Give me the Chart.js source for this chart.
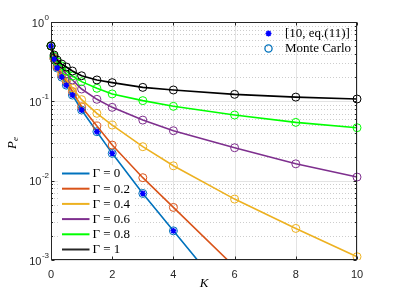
<!DOCTYPE html>
<html><head><meta charset="utf-8">
<script src="https://cdn.jsdelivr.net/npm/chart.js@4/dist/chart.umd.min.js"></script>
<style>html,body{margin:0;padding:0;background:#fff;}#wrap{width:395px;height:296px;}</style>
</head><body><div id="wrap"><canvas id="c" width="395" height="296"></canvas></div>
<script>
// ---- data ----
const K = [0, 0.1, 0.2, 0.35, 0.5, 0.7, 1, 1.5, 2, 3, 4, 6, 8, 10];
const pe_g0   = [0.5, 0.34, 0.263, 0.202, 0.16, 0.12, 0.0777, 0.0414, 0.0221, 0.0069, 0.00233, 0.00027, 0.000031, 0.0000035];
const pe_g02  = [0.5, 0.345, 0.272, 0.215, 0.178, 0.133, 0.0855, 0.0489, 0.0281, 0.0109, 0.0046, 0.00082, 0.000146, 0.000026];
const pe_g04  = [0.5, 0.35, 0.285, 0.232, 0.19, 0.147, 0.105, 0.0706, 0.0502, 0.0268, 0.0154, 0.00586, 0.0025, 0.0011];
const pe_g06  = [0.5, 0.36, 0.30, 0.261, 0.221, 0.186, 0.143, 0.106, 0.084, 0.058, 0.0426, 0.026, 0.0163, 0.0111];
const pe_g08  = [0.5, 0.37, 0.316, 0.279, 0.241, 0.208, 0.177, 0.146, 0.124, 0.102, 0.0865, 0.0672, 0.0543, 0.0465];
const pe_g1   = [0.5, 0.384, 0.332, 0.295, 0.271, 0.241, 0.21, 0.186, 0.172, 0.15, 0.139, 0.1225, 0.113, 0.107];
const gammaLabels = ['Γ = 0', 'Γ = 0.2', 'Γ = 0.4', 'Γ = 0.6', 'Γ = 0.8', 'Γ = 1'];
const refLabels = ['[10, eq.(11)]', 'Monte Carlo'];
const xTicks = [0, 2, 4, 6, 8, 10];
const yTicks = [1, 0.1, 0.01, 0.001];
const yTickBase = '10';
const yTickExp = ['0', '-1', '-2', '-3'];
const xTitle = 'K';
const yTitleMain = 'P', yTitleSub = 'e';

const colors = ['#0072BD', '#D95319', '#EDB120', '#7E2F8E', '#00FF00', '#000000'];
const series = [pe_g0, pe_g02, pe_g04, pe_g06, pe_g08, pe_g1];
const clipBox = {left: 6, right: 6, top: 6, bottom: 0};

const lineSets = series.map((s, i) => ({
  label: gammaLabels[i],
  data: K.map((k, j) => ({x: k, y: s[j]})),
  borderColor: colors[i], backgroundColor: 'rgba(0,0,0,0)', borderWidth: 1.6,
  pointStyle: 'circle', pointRadius: 4, pointBorderWidth: 1,
  pointBorderColor: colors[i], pointBackgroundColor: 'rgba(0,0,0,0)',
  tension: 0, clip: clipBox
}));
const starSet = {
  label: refLabels[0],
  data: K.map((k, j) => ({x: k, y: pe_g0[j]})),
  showLine: false, pointStyle: 'star', pointRadius: 3, pointBorderWidth: 1.5,
  pointBorderColor: '#0000FF', pointBackgroundColor: '#0000FF', clip: clipBox
};

const deco = {
  id: 'deco',
  beforeDatasetsDraw(chart) {
    const {ctx, chartArea: a, scales: {x, y}} = chart;
    ctx.save();
    ctx.lineWidth = 1;
    const hl = (py) => { ctx.beginPath(); ctx.moveTo(a.left, py); ctx.lineTo(a.right, py); ctx.stroke(); };
    ctx.strokeStyle = '#cdcdcd'; ctx.setLineDash([1, 2]);
    for (let d = -3; d < 0; d++) for (let m = 2; m <= 9; m++) hl(Math.round(y.getPixelForValue(m * Math.pow(10, d))) + 0.5);
    ctx.setLineDash([]);
    ctx.strokeStyle = '#e3e3e3';
    yTicks.forEach(v => hl(Math.round(y.getPixelForValue(v)) + 0.5));
    xTicks.forEach(v => { const px = Math.round(x.getPixelForValue(v)) + 0.5; ctx.beginPath(); ctx.moveTo(px, a.top); ctx.lineTo(px, a.bottom); ctx.stroke(); });
    // legend background
    ctx.fillStyle = '#ffffff';
    ctx.fillRect(58, 165, 77, 93);
    ctx.restore();
  },
  afterDatasetsDraw(chart) {
    const {ctx, chartArea: a, scales: {x, y}} = chart;
    ctx.save();
    ctx.strokeStyle = '#262626'; ctx.lineWidth = 1;
    const L = Math.round(a.left) + 0.5, R = Math.round(a.right) - 0.5, T = Math.round(a.top) + 0.5, B = Math.round(a.bottom) - 0.5;
    ctx.strokeRect(L, T, R - L, B - T);
    ctx.beginPath();
    xTicks.forEach(v => { const px = Math.round(x.getPixelForValue(v)) + 0.5; ctx.moveTo(px, B); ctx.lineTo(px, B - 3); ctx.moveTo(px, T); ctx.lineTo(px, T + 3); });
    yTicks.forEach(v => { const py = Math.round(y.getPixelForValue(v)) + 0.5; ctx.moveTo(L, py); ctx.lineTo(L + 3, py); ctx.moveTo(R, py); ctx.lineTo(R - 3, py); });
    for (let d = -3; d < 0; d++) for (let m = 2; m <= 9; m++) { const py = Math.round(y.getPixelForValue(m * Math.pow(10, d))) + 0.5; ctx.moveTo(L, py); ctx.lineTo(L + 1.5, py); ctx.moveTo(R, py); ctx.lineTo(R - 1.5, py); }
    ctx.stroke();
    ctx.restore();
  },
  afterDraw(chart) {
    const {ctx, scales: {y}} = chart;
    ctx.save();
    // y tick labels with raised exponents
    ctx.fillStyle = '#262626'; ctx.textBaseline = 'alphabetic'; ctx.textAlign = 'right';
    yTicks.forEach((v, i) => {
      const py = y.getPixelForValue(v);
      ctx.font = '8px "Liberation Sans", Arial, sans-serif';
      const ew = ctx.measureText(yTickExp[i]).width;
      ctx.fillText(yTickExp[i], 49, py - 2.5);
      ctx.font = '11px "Liberation Sans", Arial, sans-serif';
      ctx.fillText(yTickBase, 49 - ew - 0.5, py + 4.5);
    });
    // bottom-left legend
    ctx.font = '13px "Liberation Serif", "DejaVu Serif", serif';
    ctx.textBaseline = 'middle'; ctx.textAlign = 'left'; ctx.fillStyle = '#000';
    gammaLabels.forEach((lab, i) => {
      const yy = 173.5 + i * 15.2;
      ctx.strokeStyle = colors[i] === '#000000' ? '#262626' : colors[i]; ctx.lineWidth = 2;
      ctx.beginPath(); ctx.moveTo(62, yy); ctx.lineTo(89.5, yy); ctx.stroke();
      ctx.fillText(lab, 92.5, yy + 0.5);
    });
    // top-right legend
    const mx = 268.5;
    ctx.strokeStyle = '#0000FF'; ctx.lineWidth = 1.5;
    ctx.beginPath();
    for (let k = 0; k < 4; k++) { const ang = k * Math.PI / 4; ctx.moveTo(mx - 3 * Math.cos(ang), 33.5 - 3 * Math.sin(ang)); ctx.lineTo(mx + 3 * Math.cos(ang), 33.5 + 3 * Math.sin(ang)); }
    ctx.stroke();
    ctx.strokeStyle = '#0072BD'; ctx.lineWidth = 1.3;
    ctx.beginPath(); ctx.arc(mx, 48.5, 3.6, 0, Math.PI * 2); ctx.stroke();
    ctx.fillText(refLabels[0], 285, 33.5);
    ctx.fillText(refLabels[1], 285, 48.5);
    // axis titles
    ctx.font = 'italic 13px "Liberation Serif", "DejaVu Serif", serif';
    ctx.textAlign = 'center';
    ctx.fillText(xTitle, 204, 284);
    ctx.translate(13, 143); ctx.rotate(-Math.PI / 2);
    ctx.textAlign = 'left';
    ctx.fillText(yTitleMain, -6, 0);
    ctx.font = 'italic 9px "Liberation Serif", "DejaVu Serif", serif';
    ctx.fillText(yTitleSub, 2, 3);
    ctx.restore();
  }
};

new Chart(document.getElementById('c'), {
  type: 'line',
  data: {datasets: [starSet, ...lineSets.slice().reverse()]},
  options: {
    responsive: false, animation: false, devicePixelRatio: 1,
    layout: {padding: {left: 0, right: 38, top: 22, bottom: 0}},
    plugins: {legend: {display: false}, tooltip: {enabled: false}},
    scales: {
      x: {
        type: 'linear', min: 0, max: 10,
        afterBuildTicks: s => { s.ticks = xTicks.map(v => ({value: v})); },
        afterFit: s => { s.height = 36; },
        grid: {display: false, drawTicks: false}, border: {display: false},
        ticks: {padding: 8, color: '#262626', autoSkip: false, maxRotation: 0,
                font: {family: '"Liberation Sans", Arial, sans-serif', size: 11}}
      },
      y: {
        type: 'logarithmic', min: 0.001, max: 1,
        afterBuildTicks: s => { s.ticks = yTicks.map(v => ({value: v})); },
        afterFit: s => { s.width = 51; },
        grid: {display: false, drawTicks: false}, border: {display: false},
        ticks: {display: false}
      }
    }
  },
  plugins: [deco]
});
</script></body></html>
